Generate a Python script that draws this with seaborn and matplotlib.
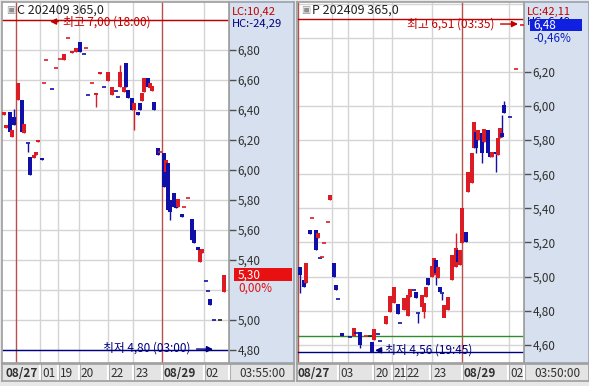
import matplotlib
matplotlib.use('Agg')
import matplotlib.pyplot as plt
import matplotlib.transforms as mtransforms
from matplotlib.patches import Rectangle
import seaborn as sns
import pandas as pd

sns.set_theme(style='white')
plt.rcParams['font.family'] = ['Noto Sans CJK KR', 'DejaVu Sans']

W, H = 589, 386
RED = '#dc1c24'
BLUE = '#1010a8'
NAVY = '#000080'
GRID = '#d4d4d4'
SESSION = '#b8504c'
STRIP = '#d6e0ee'
BOTTOM = '#e4e4e4'

# ---- C 202409 365.0 (call) ----
c_bar = [2, 3, 5, 6, 7, 9, 11, 12, 14, 15, 17, 18, 19, 21, 22, 23, 26, 28, 30, 32,
         34, 36, 38, 40, 42, 43, 44, 46, 48, 50, 52, 54, 56, 58, 59, 60, 62, 63, 64, 66,
         67, 69, 70, 71, 72, 74, 75, 76, 77, 79, 80, 82, 83, 84, 85, 87, 88, 89, 91, 92,
         94, 96, 97, 99, 100, 101, 103, 104, 105, 107, 110, 112]
c_open = [6.367, 6.28, 6.387, 6.22, 6.353, 6.467, 6.467, 6.247, 6.18, 6.087, 6.08, 6.10, 6.187, 6.08, 6.58, 6.733, 6.54, 6.68, 6.74, 6.733,
          6.88, 6.78, 6.787, 6.853, 6.773, 6.813, 6.50, 6.58, 6.50, 6.64, 6.553, 6.593, 6.50, 6.527, 6.487, 6.553, 6.52, 6.713, 6.533, 6.48,
          6.40, 6.387, 6.447, 6.46, 6.52, 6.613, 6.547, 6.527, 6.453, 6.147, 6.12, 6.113, 5.987, 6.047, 5.80, 5.847, 5.78, 5.753, 5.707, 5.753,
          5.813, 5.673, 5.60, 5.487, 5.387, 5.447, 5.26, 5.193, 5.14, 5.00, 5.00, 5.187]
c_close = [6.387, 6.30, 6.253, 6.267, 6.30, 6.58, 6.253, 6.307, 6.18, 5.967, 6.10, 6.12, 6.20, 6.067, 6.58, 6.733, 6.54, 6.68, 6.74, 6.773,
           6.88, 6.787, 6.813, 6.787, 6.773, 6.813, 6.50, 6.58, 6.513, 6.653, 6.553, 6.653, 6.553, 6.527, 6.487, 6.653, 6.553, 6.553, 6.48, 6.40,
           6.447, 6.367, 6.40, 6.513, 6.613, 6.553, 6.58, 6.56, 6.40, 6.10, 6.12, 5.887, 6.067, 5.733, 5.72, 5.753, 5.747, 5.807, 5.687, 5.753,
           5.813, 5.533, 5.513, 5.467, 5.467, 5.473, 5.26, 5.193, 5.10, 5.00, 5.00, 5.30]
c_wicks = {7: (6.407, None), 14: (None, 6.12), 48: (None, 6.42), 60: (6.70, None),
           67: (None, 6.267), 85: (None, 5.667)}

# ---- P 202409 365.0 (put) ----
p_bar = [2, 4, 5, 7, 8, 10, 11, 12, 13, 14, 16, 17, 19, 20, 21, 23, 27, 29, 30, 32,
         35, 37, 38, 39, 41, 42, 45, 47, 49, 51, 52, 54, 56, 57, 59, 60, 61, 63, 64, 65,
         66, 68, 69, 70, 71, 72, 73, 74, 76, 78, 80, 81, 82, 83, 85, 86, 88, 89, 90, 91,
         93, 94, 96, 97, 98, 100, 101, 102, 103, 104, 107, 110, 113]
p_open = [5.057, 4.981, 4.963, 5.274, 5.344, 5.274, 5.227, 5.110, 5.115, 5.197, 5.320, 5.449, 5.080, 4.951, 4.869, 4.670, 4.647, 4.653, 4.670, 4.676,
          4.653, 4.653, 4.617, 4.629, 4.664, 4.623, 4.723, 4.793, 4.846, 4.840, 4.729, 4.805, 4.770, 4.881, 4.922, 4.910, 4.787, 4.822, 4.793, 4.881,
          4.992, 4.998, 5.010, 5.098, 4.992, 4.940, 4.904, 4.758, 4.805, 4.980, 5.057, 5.156, 5.069, 5.197, 5.262, 5.496, 5.549, 5.754, 5.848, 5.801,
          5.842, 5.789, 5.859, 5.730, 5.701, 5.725, 5.713, 5.813, 5.842, 6.006, 5.935, 6.217, 6.475]
p_close = [5.010, 4.940, 5.080, 5.250, 5.344, 5.156, 5.256, 5.110, 5.115, 5.197, 5.320, 5.479, 4.998, 4.922, 4.869, 4.653, 4.647, 4.700, 4.670, 4.600,
           4.653, 4.653, 4.560, 4.694, 4.664, 4.623, 4.770, 4.887, 4.940, 4.781, 4.729, 4.875, 4.893, 4.928, 4.922, 4.875, 4.787, 4.893, 4.846, 4.940,
           4.951, 5.063, 5.110, 5.022, 5.057, 4.910, 4.904, 4.834, 4.881, 5.127, 5.168, 5.086, 5.156, 5.402, 5.203, 5.613, 5.725, 5.906, 5.754, 5.859,
           5.725, 5.865, 5.725, 5.701, 5.730, 5.720, 5.813, 5.871, 5.818, 5.959, 5.935, 6.217, 6.475]
p_wicks = {2: (None, 4.904), 32: (None, 4.58), 61: (None, 4.729), 64: (None, 4.758),
           70: (None, 4.951), 73: (None, 4.863), 74: (None, 4.835), 80: (5.256, None),
           90: (None, 5.725), 93: (None, 5.666), 100: (None, 5.613), 103: (5.947, None),
           104: (6.03, None)}

# axis / label texts
c_grid_x = [8, 20, 29, 39.5, 54, 66.5, 81, 102]
c_session_x = [8, 81]
c_sep_x = [20, 29, 39.5, 54, 66.5, 81, 102, 114.5]
c_label_x = [2.5, 21, 30, 40, 55, 67.5, 81.5, 102.5]
c_labels = ['08/27', '01', '19', '20', '22', '23', '08/29', '02']
c_yticks = [6.80, 6.60, 6.40, 6.20, 6.00, 5.80, 5.60, 5.40, 5.00, 4.80]

p_grid_x = [1, 18, 26, 38.5, 48, 68, 83, 106.5]
p_session_x = [1, 83]
p_sep_x = [21, 38.5, 48, 54.5, 67, 83, 106, 114]
p_label_x = [1, 22, 39.5, 48.5, 55, 68.5, 83.5, 107]
p_labels = ['08/27', '03', '20', '21', '22', '23', '08/29', '02']
p_yticks = [6.20, 6.00, 5.80, 5.60, 5.40, 5.20, 5.00, 4.80, 4.60]


def px_rect(x0, y0, x1, y1):
    return [x0 / W, 1 - y1 / H, (x1 - x0) / W, (y1 - y0) / H]


def fmt(v):
    return f'{v:.2f}'.replace('.', ',')


def make_df(bars, opens, closes, wicks):
    df = pd.DataFrame({'bar': bars, 'open': opens, 'close': closes})
    df['high'] = df[['open', 'close']].max(axis=1)
    df['low'] = df[['open', 'close']].min(axis=1)
    for b, (hi, lo) in wicks.items():
        if hi is not None:
            df.loc[df.bar == b, 'high'] = hi
        if lo is not None:
            df.loc[df.bar == b, 'low'] = lo
    prev = df['close'].shift(1)
    col = []
    for o, c, pc in zip(df.open, df.close, prev):
        if c > o:
            col.append(RED)
        elif c < o:
            col.append(BLUE)
        elif pd.notna(pc) and c > pc:
            col.append(RED)
        elif pd.notna(pc) and c < pc:
            col.append(BLUE)
        else:
            col.append('#202020')
    df['color'] = col
    return df


def draw_candles(ax, df, one_px):
    ax.vlines(df.bar, df.low, df.high, colors=df.color, lw=1, zorder=3)
    body = df[df.open != df.close]
    h = (body.close - body.open).abs().clip(lower=one_px * 2)
    ax.bar(body.bar, h, bottom=body[['open', 'close']].min(axis=1),
           width=1.7, color=body.color, linewidth=0, zorder=4)
    doji = df[df.open == df.close]
    ax.hlines(doji.close, doji.bar - 0.9, doji.bar + 0.9, colors=doji.color, lw=1.2, zorder=4)


def panel(fig, x0, x1, xr, ylim, one_px, df, grid_x, session_x, sep_x, label_x, labels,
          yticks, title, clock):
    strip = fig.add_axes(px_rect(x1, 2, x1 + 65, 363), zorder=0)
    strip.set_facecolor(STRIP)
    strip.set_xticks([]); strip.set_yticks([])
    for s in strip.spines.values():
        s.set_color('#9aa4b4')

    ax = fig.add_axes(px_rect(x0, 2, x1, 363), zorder=2)
    ax.set_facecolor('white')
    ax.set_xlim(*xr)
    ax.set_ylim(*ylim)
    lv = round(ylim[0] / 0.2 + 0.5) * 0.2
    while lv < ylim[1]:
        ax.axhline(lv, color=GRID, lw=1, zorder=1)
        lv += 0.2
    for gx in grid_x:
        ax.axvline(gx, color=SESSION if gx in session_x else GRID, lw=1, zorder=1)
    draw_candles(ax, df, one_px)

    ax.yaxis.tick_right()
    ax.set_yticks(yticks)
    ax.set_yticklabels([fmt(v) for v in yticks])
    ax.tick_params(axis='y', direction='out', length=5, width=1, color='#505050',
                   labelcolor='#303030', labelsize=8.5, pad=1, right=True)
    ax.set_xticks([])
    for s in ax.spines.values():
        s.set_color('#a0a0a0')

    ax.text(0.02, 0.978, '▣', transform=ax.transAxes, fontsize=7, color='#909090',
            va='center', ha='left', family=['DejaVu Sans'])
    ax.text(0.065, 0.978, title, transform=ax.transAxes, fontsize=9, color='#202020',
            va='center', ha='left')

    bot = fig.add_axes(px_rect(x0, 364, x1 + 65, 381), zorder=1)
    bot.set_facecolor(BOTTOM)
    bot.set_xlim(xr[0], xr[0] + (x1 + 65 - x0) / 2)
    bot.set_ylim(0, 1)
    bot.set_xticks([]); bot.set_yticks([])
    for s in bot.spines.values():
        s.set_color('#a0a0a0')
    for sx in sep_x:
        bot.axvline(sx, color='white', lw=1.5)
        bot.axvline(sx + 0.5, color='#b0b0b0', lw=0.8)
    for lx, lab in zip(label_x, labels):
        bold = '/' in lab
        bot.text(lx, 0.45, lab, fontsize=8.5, color='#303030', va='center', ha='left',
                 fontweight='bold' if bold else 'normal')
    bot.text(xr[0] + (x1 + 33 - x0) / 2, 0.45, clock, fontsize=8.5, color='#303030',
             va='center', ha='center')
    return ax, strip


fig = plt.figure(figsize=(W / 100, H / 100), dpi=100)
fig.patch.set_facecolor('#e8e8e8')

c_df = make_df(c_bar, c_open, c_close, c_wicks)
p_df = make_df(p_bar, p_open, p_close, p_wicks)

axc, stc = panel(fig, 2, 229, (1, 114.5), (4.713, 7.12), 1 / 150, c_df, c_grid_x, c_session_x,
                 c_sep_x, c_label_x, c_labels, c_yticks, 'C 202409 365,0', '03:55:00')
axp, stp = panel(fig, 297, 524, (0.5, 114), (4.494, 6.609), 1 / 170.7, p_df, p_grid_x,
                 p_session_x, p_sep_x, p_label_x, p_labels, p_yticks, 'P 202409 365,0', '03:50:00')

# high / low markers, call
axc.axhline(7.00, color='#c00000', lw=1, zorder=2)
axc.axhline(4.80, color=NAVY, lw=1, zorder=2)
axc.annotate('최고 7,00 (18:00)', xy=(25, 6.99), xytext=(31.5, 6.985), fontsize=8.5,
             color='#c00000', va='center', ha='left', zorder=5,
             arrowprops=dict(arrowstyle='-|>', color='#c00000', lw=1, mutation_scale=9,
                             shrinkA=1, shrinkB=0))
axc.annotate('최저 4,80 (03:00)', xy=(106.5, 4.805), xytext=(51.5, 4.81), fontsize=8.5,
             color=NAVY, va='center', ha='left', zorder=5,
             arrowprops=dict(arrowstyle='-|>', color=NAVY, lw=1, mutation_scale=9,
                             shrinkA=2, shrinkB=0))

# high / low markers, put
axp.axhline(6.51, color='#c00000', lw=1, zorder=2)
axp.axhline(4.56, color=NAVY, lw=1, zorder=2)
axp.axhline(4.653, color='#2e8b2e', lw=1, zorder=2)
axp.annotate('최고 6,51 (03:35)', xy=(111, 6.48), xytext=(55.5, 6.48), fontsize=8.5,
             color='#c00000', va='center', ha='left', zorder=5,
             arrowprops=dict(arrowstyle='-|>', color='#c00000', lw=1, mutation_scale=9,
                             shrinkA=2, shrinkB=0))
axp.annotate('최저 4,56 (19:45)', xy=(39.5, 4.568), xytext=(44.5, 4.57), fontsize=8.5,
             color=NAVY, va='center', ha='left', zorder=5,
             arrowprops=dict(arrowstyle='-|>', color=NAVY, lw=1, mutation_scale=9,
                             shrinkA=0, shrinkB=0))

# strip texts, call
stc.text(0.05, 0.971, 'LC:10,42', transform=stc.transAxes, fontsize=8, color='#c00000', va='center')
stc.text(0.05, 0.939, 'HC:-24,29', transform=stc.transAxes, fontsize=8, color=NAVY, va='center')
tc = mtransforms.blended_transform_factory(axc.transAxes, axc.transData)
axc.add_patch(Rectangle((1.022, 5.258), 0.256, 0.087, transform=tc, clip_on=False,
                        facecolor='#e81010', edgecolor='none', zorder=6))
axc.text(1.04, 5.30, '5,30', transform=tc, fontsize=8.5, color='white', va='center', zorder=7)
axc.text(1.04, 5.21, '0,00%', transform=tc, fontsize=8.5, color='#e01010', va='center', zorder=7)

# strip texts, put (the HC value sits under the current-price box, as on screen)
stp.text(0.05, 0.971, 'LC:42,11', transform=stp.transAxes, fontsize=8, color='#c00000', va='center')
stp.text(0.05, 0.945, 'HC:-6,49', transform=stp.transAxes, fontsize=8, color=NAVY, va='center')
tp = mtransforms.blended_transform_factory(axp.transAxes, axp.transData)
axp.add_patch(Rectangle((1.026, 6.440), 0.228, 0.070, transform=tp, clip_on=False,
                        facecolor='#1020e0', edgecolor='none', zorder=6))
axp.text(1.04, 6.475, '6,48', transform=tp, fontsize=8.5, color='white', va='center', zorder=7)
axp.text(1.04, 6.395, '-0,46%', transform=tp, fontsize=8.5, color='#1020c0', va='center', zorder=7)

fig.savefig('out.png', dpi=100, facecolor=fig.get_facecolor())
